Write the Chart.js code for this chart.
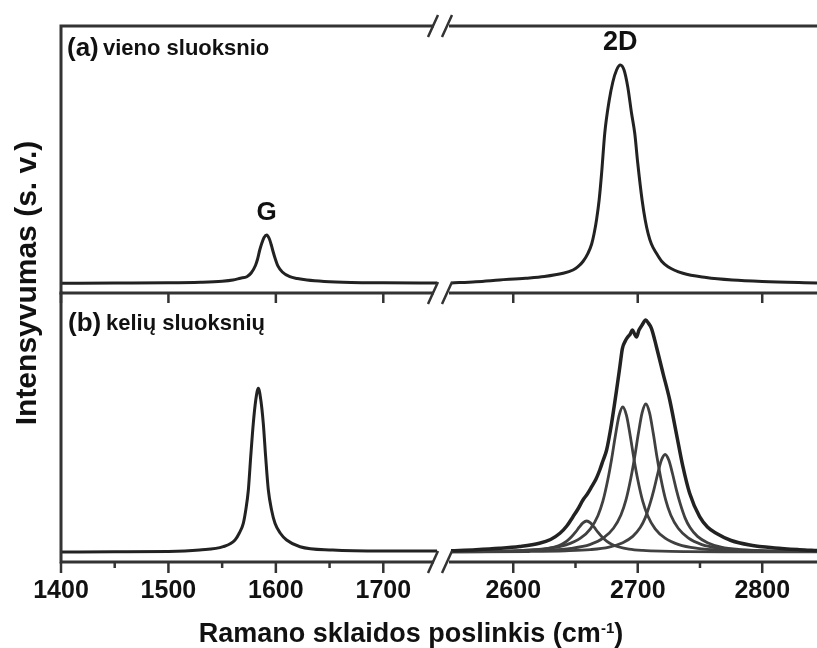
<!DOCTYPE html>
<html lang="lt">
<head>
<meta charset="utf-8">
<title>Ramano spektrai</title>
<script src="https://cdn.jsdelivr.net/npm/chart.js@4.4.1/dist/chart.umd.min.js"></script>
<style>
  html, body { margin: 0; padding: 0; background: #fff; overflow: hidden; }
  #figure { position: relative; width: 817px; height: 648px; font-family: "Liberation Sans", Arial, sans-serif; font-weight: bold; color: #111; }
  #figure canvas { position: absolute; }
  .txt { position: absolute; white-space: nowrap; line-height: 0; }
  #xTitle { position: absolute; left: 11px; top: 620px; width: 800px; text-align: center; font-size: 27px; line-height: 27px; white-space: nowrap; }
  #xTitle sup { font-size: 15px; line-height: 0; vertical-align: 9px; }
  #yTitle { position: absolute; left: -174px; top: 268px; width: 400px; height: 30px; text-align: center; font-size: 30px; line-height: 30px; white-space: nowrap; transform: rotate(-90deg); }
</style>
</head>
<body>
<div id="figure">
  <canvas id="topLeft" width="440" height="310" style="left:0;top:0"></canvas>
  <canvas id="topRight" width="380" height="310" style="left:437px;top:0"></canvas>
  <canvas id="bottomLeft" width="440" height="368" style="left:0;top:280px"></canvas>
  <canvas id="bottomRight" width="380" height="368" style="left:437px;top:280px"></canvas>

  <div class="txt" style="left:67px;top:47px;font-size:26px">(a)</div>
  <div class="txt" style="left:103px;top:48px;font-size:22px">vieno sluoksnio</div>
  <div class="txt" style="left:68px;top:322px;font-size:26px">(b)</div>
  <div class="txt" style="left:106px;top:323px;font-size:22px">kelių sluoksnių</div>

  <div id="xTitle">Ramano sklaidos poslinkis (cm<sup>-1</sup>)</div>
  <div id="yTitle">Intensyvumas (s. v.)</div>
</div>

<script>
// x ranges of the two halves of the broken axis (cm-1)
const leftRange = [1400, 1750];
const rightRange = [2550, 2844];

// tick values
const leftMajor = [1400, 1500, 1600, 1700];
const leftMinor = [1450, 1550, 1650];
const rightMajor = [2600, 2700, 2800];
const rightMinor = [2650, 2750];

// (a) single layer - G band
const aLeftX = [1400, 1450, 1500, 1530, 1550, 1560, 1567, 1573, 1577, 1581, 1583, 1585, 1587, 1589, 1591.5, 1594, 1595.5, 1597, 1599.5, 1602, 1606, 1613, 1620, 1629, 1645, 1670, 1700, 1750];
const aLeftY = [9.8, 10, 10.2, 10.8, 11.8, 13, 14.8, 16.3, 20, 27.5, 34, 43, 50, 55.5, 58, 54, 49, 43, 34, 26.8, 21, 16.3, 14.5, 13, 11.6, 10.6, 10.2, 9.9];

// (a) single layer - 2D band
const aRightX = [2550, 2570, 2589, 2610, 2625, 2640, 2648, 2652, 2656, 2660, 2663, 2665, 2667, 2669, 2671, 2673.5, 2677, 2680, 2683, 2686, 2689, 2692, 2695, 2697.6, 2700, 2703.5, 2706, 2708.3, 2711, 2715, 2719, 2724.3, 2736.3, 2755, 2776, 2800, 2844];
const aRightY = [10, 11.3, 13, 14.8, 16.5, 19.7, 23, 26.3, 31.5, 39.7, 49, 59.7, 74, 93, 120, 159.7, 192, 211, 223, 228, 223, 206, 180, 159.7, 130, 93, 73, 59.7, 49, 39.7, 32, 26.3, 19.7, 15.5, 13, 11.5, 10];

// (b) few layers - G band
const bLeftX = [1400, 1450, 1500, 1529, 1551, 1562, 1566, 1569.7, 1572, 1574.4, 1576.6, 1579, 1581.3, 1583.7, 1586, 1588.3, 1590.5, 1593, 1596, 1599.2, 1604, 1610, 1622.5, 1653, 1700, 1750];
const bLeftY = [10, 10.3, 10.5, 12, 15.3, 22, 29, 38.7, 52, 72, 105.3, 138.7, 162, 173.7, 162, 138.7, 105.3, 72, 52, 38.7, 29, 22, 15.3, 12, 11, 11];

// (b) few layers - measured 2D band
const bEnvX = [2550, 2570, 2589, 2605, 2621, 2630, 2637.5, 2643, 2648, 2652, 2656, 2659.5, 2663, 2666.5, 2669.5, 2672, 2675, 2679, 2681, 2683, 2685.6, 2687.7, 2690, 2692, 2694, 2695.7, 2697.5, 2699, 2701, 2703.5, 2706.4, 2708.5, 2711, 2715, 2720.3, 2725.7, 2731, 2736.3, 2741.7, 2749.7, 2756, 2763, 2775, 2790, 2810, 2830, 2844];
const bEnvY = [11.3, 12.3, 13.7, 15.5, 18.7, 22.5, 28.7, 36, 45.3, 53, 62, 68, 75.3, 83, 92, 101, 112, 138.7, 155, 172, 195, 213.7, 221, 225, 228, 232, 228, 225, 232, 237, 242, 239, 233.7, 215.3, 188.7, 162, 128.7, 95.3, 68.7, 45.3, 35, 28.7, 21.5, 17, 14, 12.3, 11.5];

// (b) fitted 2D components
const p1X = [2550, 2579, 2599, 2614, 2625, 2633, 2639, 2643, 2647, 2650, 2653, 2656, 2659, 2662, 2665, 2668, 2671, 2675, 2679, 2685, 2693, 2704, 2719, 2739, 2769, 2844];
const p1Y = [10.2, 10.4, 10.8, 11.6, 12.9, 15, 17.8, 20.9, 25.5, 29.8, 34.8, 39.1, 41, 39.1, 34.8, 29.8, 25.5, 20.9, 17.8, 15, 12.9, 11.6, 10.8, 10.4, 10.2, 10.1];
const p2X = [2550, 2578, 2608, 2628, 2643, 2654, 2662, 2668, 2672, 2676, 2679, 2682, 2685, 2688, 2691, 2694, 2697, 2700, 2704, 2708, 2714, 2722, 2733, 2748, 2768, 2798, 2844];
const p2Y = [10.4, 10.7, 11.7, 13.6, 17.3, 23.8, 33.2, 46.3, 60.8, 82.5, 102.8, 126, 146.3, 155, 146.3, 126, 102.8, 82.5, 60.8, 46.3, 33.2, 23.8, 17.3, 13.6, 11.7, 10.7, 10.3];
const p3X = [2550, 2596.5, 2626.5, 2646.5, 2661.5, 2672.5, 2680.5, 2686.5, 2690.5, 2694.5, 2697.5, 2700.5, 2703.5, 2706.5, 2709.5, 2712.5, 2715.5, 2718.5, 2722.5, 2726.5, 2732.5, 2740.5, 2751.5, 2766.5, 2786.5, 2816.5, 2844];
const p3Y = [10.3, 10.7, 11.8, 13.7, 17.4, 24.1, 33.7, 47, 61.8, 84, 104.7, 128.4, 149.1, 158, 149.1, 128.4, 104.7, 84, 61.8, 47, 33.7, 24.1, 17.4, 13.7, 11.8, 10.7, 10.4];
const p4X = [2550, 2572, 2612, 2642, 2662, 2677, 2688, 2696, 2702, 2706, 2710, 2713, 2716, 2719, 2722, 2725, 2728, 2731, 2734, 2738, 2742, 2748, 2756, 2767, 2782, 2802, 2832, 2844];
const p4Y = [10.2, 10.2, 10.5, 11.2, 12.4, 14.9, 19.3, 25.6, 34.4, 44.1, 58.8, 72.4, 88, 101.7, 107.5, 101.7, 88, 72.4, 58.8, 44.1, 34.4, 25.6, 19.3, 14.9, 12.4, 11.2, 10.5, 10.4];

const FONT = "Liberation Sans";

function points(xs, ys) {
  return xs.map((x, i) => ({ x: x, y: ys[i] }));
}

function spectrum(xs, ys) {
  return { data: points(xs, ys), borderColor: "#222", borderWidth: 3 };
}

function component(xs, ys) {
  return { data: points(xs, ys), borderColor: "#404040", borderWidth: 2.8 };
}

// Frame lines, tick marks and the "//" marks of the broken axis
const framePlugin = {
  id: "frame",
  afterDraw(chart, args, opts) {
    const ctx = chart.ctx;
    const { left, right, top, bottom } = chart.chartArea;
    const xScale = chart.scales.x;
    const rows = opts.drawTop ? [top, bottom] : [bottom];
    const lineStart = opts.breakBefore ? left - 2 : left - 1.5;
    const lineEnd = opts.breakAfter ? right - 3 : chart.width;

    ctx.save();
    ctx.strokeStyle = "#333";
    ctx.lineWidth = 3;
    ctx.beginPath();
    rows.forEach(y => {
      ctx.moveTo(lineStart, y);
      ctx.lineTo(lineEnd, y);
    });
    if (opts.drawLeft) {
      ctx.moveTo(left, top - 1.5);
      ctx.lineTo(left, bottom + 1.5);
    }
    ctx.stroke();

    // ticks point down, out of the panel
    ctx.lineWidth = 2.5;
    ctx.beginPath();
    (opts.majors || []).forEach(v => {
      const x = xScale.getPixelForValue(v);
      ctx.moveTo(x, bottom);
      ctx.lineTo(x, bottom + opts.majorLength);
    });
    (opts.minors || []).forEach(v => {
      const x = xScale.getPixelForValue(v);
      ctx.moveTo(x, bottom);
      ctx.lineTo(x, bottom + opts.minorLength);
    });
    ctx.stroke();

    if (opts.breakAfter || opts.breakBefore) {
      const bx = opts.breakAfter ? right - 4 : left - 4;
      ctx.beginPath();
      rows.forEach(y => {
        ctx.moveTo(bx - 5, y + 11);
        ctx.lineTo(bx + 5, y - 11);
      });
      ctx.stroke();
    }
    ctx.restore();
  }
};

// Band name written above the highest point of a dataset
const peakLabel = {
  id: "peakLabel",
  afterDatasetsDraw(chart, args, opts) {
    if (!opts.text) return;
    const data = chart.data.datasets[0].data;
    let peak = data[0];
    data.forEach(p => { if (p.y > peak.y) peak = p; });
    const x = chart.scales.x.getPixelForValue(peak.x);
    const y = chart.scales.y.getPixelForValue(peak.y);
    const ctx = chart.ctx;
    ctx.save();
    ctx.fillStyle = "#111";
    ctx.font = "bold " + opts.size + "px '" + FONT + "'";
    ctx.textAlign = "center";
    ctx.textBaseline = "middle";
    ctx.fillText(opts.text, x, y - 22);
    ctx.restore();
  }
};

function makeChart(id, cfg) {
  const ctx = document.getElementById(id).getContext("2d");
  return new Chart(ctx, {
    type: "line",
    data: { datasets: cfg.datasets },
    options: {
      responsive: false,
      devicePixelRatio: 1,
      animation: false,
      events: [],
      layout: { padding: cfg.padding },
      elements: {
        point: { radius: 0 },
        line: { cubicInterpolationMode: "monotone", borderJoinStyle: "round", fill: false }
      },
      plugins: {
        legend: { display: false },
        tooltip: { enabled: false },
        frame: cfg.frame,
        peakLabel: cfg.label || {}
      },
      scales: {
        x: {
          type: "linear",
          min: cfg.range[0],
          max: cfg.range[1],
          display: !!cfg.showTicks,
          // tick marks come from the frame plugin; tickLength only spaces the labels
          grid: { display: false, drawTicks: true, tickLength: 14 },
          border: { display: false },
          ticks: {
            stepSize: 50,
            includeBounds: false,
            autoSkip: false,
            maxRotation: 0,
            padding: 0,
            color: "#111",
            font: { family: FONT, size: 25, weight: "bold" },
            callback: v => (v % 100 === 0 ? String(v) : "")
          },
          afterFit: scale => {
            if (cfg.showTicks) scale.height = 86;
          }
        },
        y: { display: false, min: 0, max: cfg.yMax }
      }
    },
    plugins: [framePlugin, peakLabel]
  });
}

document.addEventListener("DOMContentLoaded", () => {
  // (a) left half
  try {
    makeChart("topLeft", {
      datasets: [spectrum(aLeftX, aLeftY)],
      range: leftRange,
      yMax: 267,
      padding: { left: 61, right: 3, top: 26, bottom: 17 },
      frame: { drawTop: true, drawLeft: true, breakAfter: true, majors: leftMajor, majorLength: 10 },
      label: { text: "G", size: 26 }
    });
  } catch (error) {
    console.error("Error initializing top left chart:", error);
  }

  // (a) right half
  try {
    makeChart("topRight", {
      datasets: [spectrum(aRightX, aRightY)],
      range: rightRange,
      yMax: 267,
      padding: { left: 14, right: 0, top: 26, bottom: 17 },
      frame: { drawTop: true, breakBefore: true, majors: rightMajor, majorLength: 10 },
      label: { text: "2D", size: 27 }
    });
  } catch (error) {
    console.error("Error initializing top right chart:", error);
  }

  // (b) left half
  try {
    makeChart("bottomLeft", {
      datasets: [spectrum(bLeftX, bLeftY)],
      range: leftRange,
      yMax: 269,
      showTicks: true,
      padding: { left: 61, right: 3, top: 13, bottom: 0 },
      frame: { drawLeft: true, breakAfter: true, majors: leftMajor, minors: leftMinor, majorLength: 11, minorLength: 6 }
    });
  } catch (error) {
    console.error("Error initializing bottom left chart:", error);
  }

  // (b) right half: measured band on top of the four fitted components
  try {
    const envelope = spectrum(bEnvX, bEnvY);
    envelope.borderWidth = 3.5;
    makeChart("bottomRight", {
      datasets: [envelope, component(p1X, p1Y), component(p2X, p2Y), component(p3X, p3Y), component(p4X, p4Y)],
      range: rightRange,
      yMax: 269,
      showTicks: true,
      padding: { left: 14, right: 0, top: 13, bottom: 0 },
      frame: { breakBefore: true, majors: rightMajor, minors: rightMinor, majorLength: 11, minorLength: 6 }
    });
  } catch (error) {
    console.error("Error initializing bottom right chart:", error);
  }
});
</script>
</body>
</html>
